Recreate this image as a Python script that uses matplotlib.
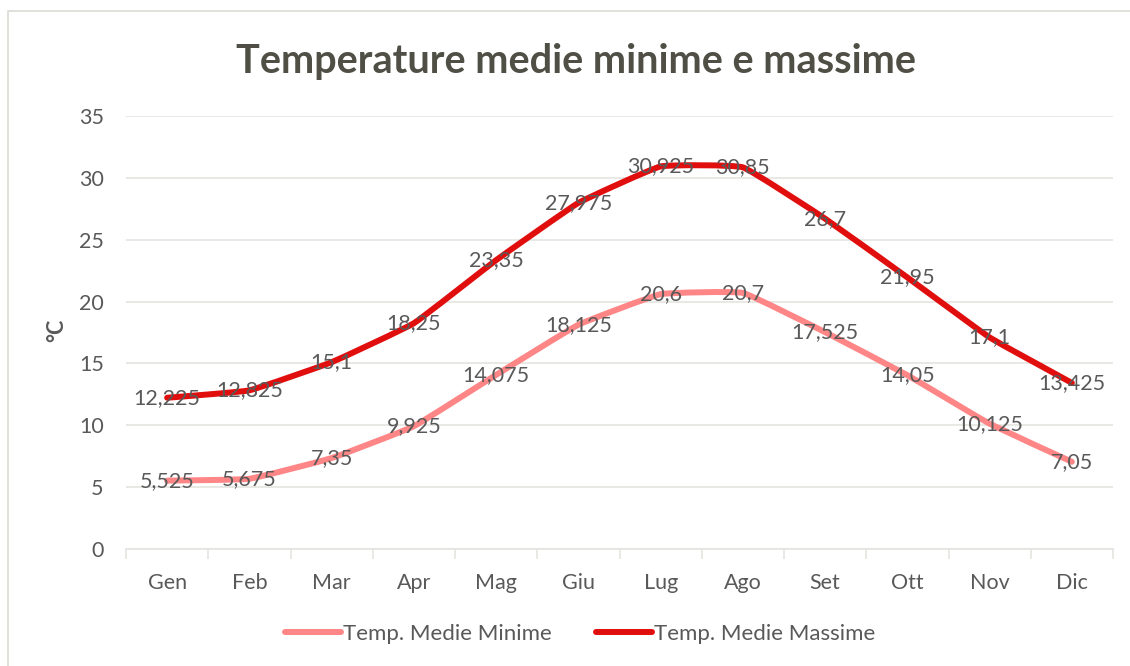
import matplotlib
matplotlib.use("Agg")
import matplotlib.pyplot as plt
from matplotlib.path import Path
from matplotlib.patches import PathPatch, Rectangle
from matplotlib.lines import Line2D
import numpy as np

months = ["Gen", "Feb", "Mar", "Apr", "Mag", "Giu", "Lug", "Ago", "Set", "Ott", "Nov", "Dic"]
t_min = [5.525, 5.675, 7.35, 9.925, 14.075, 18.125, 20.6, 20.7, 17.525, 14.05, 10.125, 7.05]
t_max = [12.225, 12.825, 15.1, 18.25, 23.35, 27.975, 30.925, 30.85, 26.7, 21.95, 17.1, 13.425]
series_names = ["Temp. Medie Minime", "Temp. Medie Massime"]
title = "Temperature medie minime e massime"
ylabel = "°C"
yticks = [0, 5, 10, 15, 20, 25, 30, 35]

FONT = ["Lato", "DejaVu Sans"]
TXT = "#595959"
C_MIN = "#FF8686"
C_MAX = "#E10E0E"
GRID = "#E4E4E0"
FS = 15.5
LW = 4.3

plt.rcParams["font.family"] = FONT

W, H = 1130, 666
fig = plt.figure(figsize=(W / 100, H / 100), dpi=100)
fig.patch.set_facecolor("white")

# outer chart border
fig.patches.append(Rectangle((8 / W, -0.1), 1.2, (666 - 11) / H + 0.1, transform=fig.transFigure,
                             fill=False, edgecolor="#DCDCD6", linewidth=1.2))

ax = fig.add_axes([126 / W, 1 - 549 / H, (1113 - 126) / W, (549 - 116) / H])
x = np.arange(len(months))
ax.set_xlim(-0.5, len(months) - 0.5)
ax.set_ylim(0, 35)

TENSION = 0.05


def smooth_path(xs, ys):
    xs = np.asarray(xs, float)
    ys = np.asarray(ys, float)
    px = np.concatenate([[xs[0]], xs, [xs[-1]]])
    py = np.concatenate([[ys[0]], ys, [ys[-1]]])
    verts = [(xs[0], ys[0])]
    codes = [Path.MOVETO]
    for i in range(1, len(px) - 2):
        c1 = (px[i] + (px[i + 1] - px[i - 1]) * TENSION, py[i] + (py[i + 1] - py[i - 1]) * TENSION)
        c2 = (px[i + 1] - (px[i + 2] - px[i]) * TENSION, py[i + 1] - (py[i + 2] - py[i]) * TENSION)
        verts += [c1, c2, (px[i + 1], py[i + 1])]
        codes += [Path.CURVE4] * 3
    return Path(verts, codes)


for vals, col in [(t_min, C_MIN), (t_max, C_MAX)]:
    ax.add_patch(PathPatch(smooth_path(x, vals), facecolor="none", edgecolor=col,
                           linewidth=LW, capstyle="round", joinstyle="round", zorder=3))

for vals in (t_min, t_max):
    for xi, v in zip(x, vals):
        lab = ("%g" % v).replace(".", ",")
        ax.text(xi, v, lab, ha="center", va="center", fontsize=FS, color=TXT, zorder=4)

ax.set_yticks(yticks)
ax.set_yticklabels([str(t) for t in yticks], fontsize=FS, color=TXT)
ax.yaxis.grid(True, color=GRID, linewidth=1.2)
ax.set_axisbelow(True)
ax.tick_params(axis="y", length=0, pad=16)

ax.set_xticks(x)
ax.set_xticklabels(months, fontsize=FS, color=TXT)
ax.set_xticks(np.arange(-0.5, len(months)), minor=True)
ax.tick_params(axis="x", which="major", length=0, pad=17)
ax.tick_params(axis="x", which="minor", length=7, color=GRID, width=1.2)

for s in ["top", "right", "left"]:
    ax.spines[s].set_visible(False)
ax.spines["bottom"].set_color(GRID)
ax.spines["bottom"].set_linewidth(1.2)

fig.text(57 / W, 1 - 330 / H, ylabel, rotation=90, ha="center", va="center",
         fontsize=FS, fontweight="bold", color=TXT)
fig.text(576 / W, 1 - 62 / H, title, ha="center", va="center",
         fontsize=28.5, fontweight="bold", color="#4F4F46")

handles = [Line2D([], [], color=C_MIN, linewidth=LW, solid_capstyle="round"),
           Line2D([], [], color=C_MAX, linewidth=LW, solid_capstyle="round")]
fig.legend(handles, series_names, loc="center", bbox_to_anchor=(580 / W, 1 - 634 / H),
           ncol=2, frameon=False, fontsize=16, handlelength=2.5, handletextpad=0.1,
           columnspacing=2.0, labelcolor=TXT)

fig.savefig("out.png", dpi=100)
